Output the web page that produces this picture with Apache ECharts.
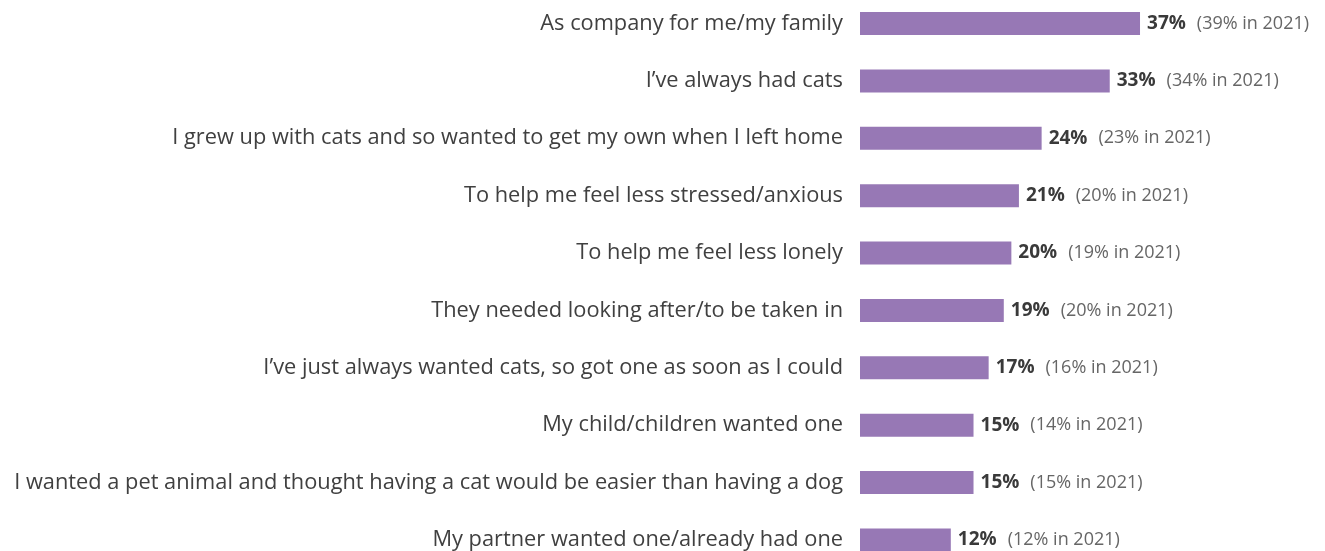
<!DOCTYPE html>
<html><head><meta charset="utf-8">
<script src="https://cdn.jsdelivr.net/npm/echarts@6/dist/echarts.min.js"></script>
<style>html,body{margin:0;padding:0;background:#fff}#c{width:1325px;height:551px}</style>
</head><body><div id="c"></div>
<script>
const categories = [
  "As company for me/my family",
  "I\u2019ve always had cats",
  "I grew up with cats and so wanted to get my own when I left home",
  "To help me feel less stressed/anxious",
  "To help me feel less lonely",
  "They needed looking after/to be taken in",
  "I\u2019ve just always wanted cats, so got one as soon as I could",
  "My child/children wanted one",
  "I wanted a pet animal and thought having a cat would be easier than having a dog",
  "My partner wanted one/already had one"
];
const values2023 = [37, 33, 24, 21, 20, 19, 17, 15, 15, 12];
const values2021 = [39, 34, 23, 20, 19, 20, 16, 14, 15, 12];

const chart = echarts.init(document.getElementById('c'), null, {renderer: 'canvas'});
chart.setOption({
  animation: false,
  grid: {left: 860, right: 86.6, top: 23.5, bottom: 9.5, containLabel: false},
  xAxis: {type: 'value', min: 0, max: 50, show: false},
  yAxis: {
    type: 'category', inverse: true, data: categories, boundaryGap: false,
    axisLine: {show: false}, axisTick: {show: false}, splitLine: {show: false},
    axisLabel: {fontFamily: 'Open Sans', fontSize: 21.8, color: '#404040', margin: 17}
  },
  series: [{
    type: 'bar', data: values2023, barWidth: 23,
    itemStyle: {color: '#9778b5'},
    label: {
      show: true, position: 'right', distance: 7,
      formatter: p => '{b|' + p.value + '%}{g|(' + values2021[p.dataIndex] + '% in 2021)}',
      rich: {
        b: {fontFamily: 'Open Sans', fontWeight: 'bold', fontSize: 19, color: '#3a3a3a'},
        g: {fontFamily: 'Open Sans', fontSize: 18, color: '#666666', padding: [0, 0, 0, 11]}
      }
    }
  }]
});
</script></body></html>
